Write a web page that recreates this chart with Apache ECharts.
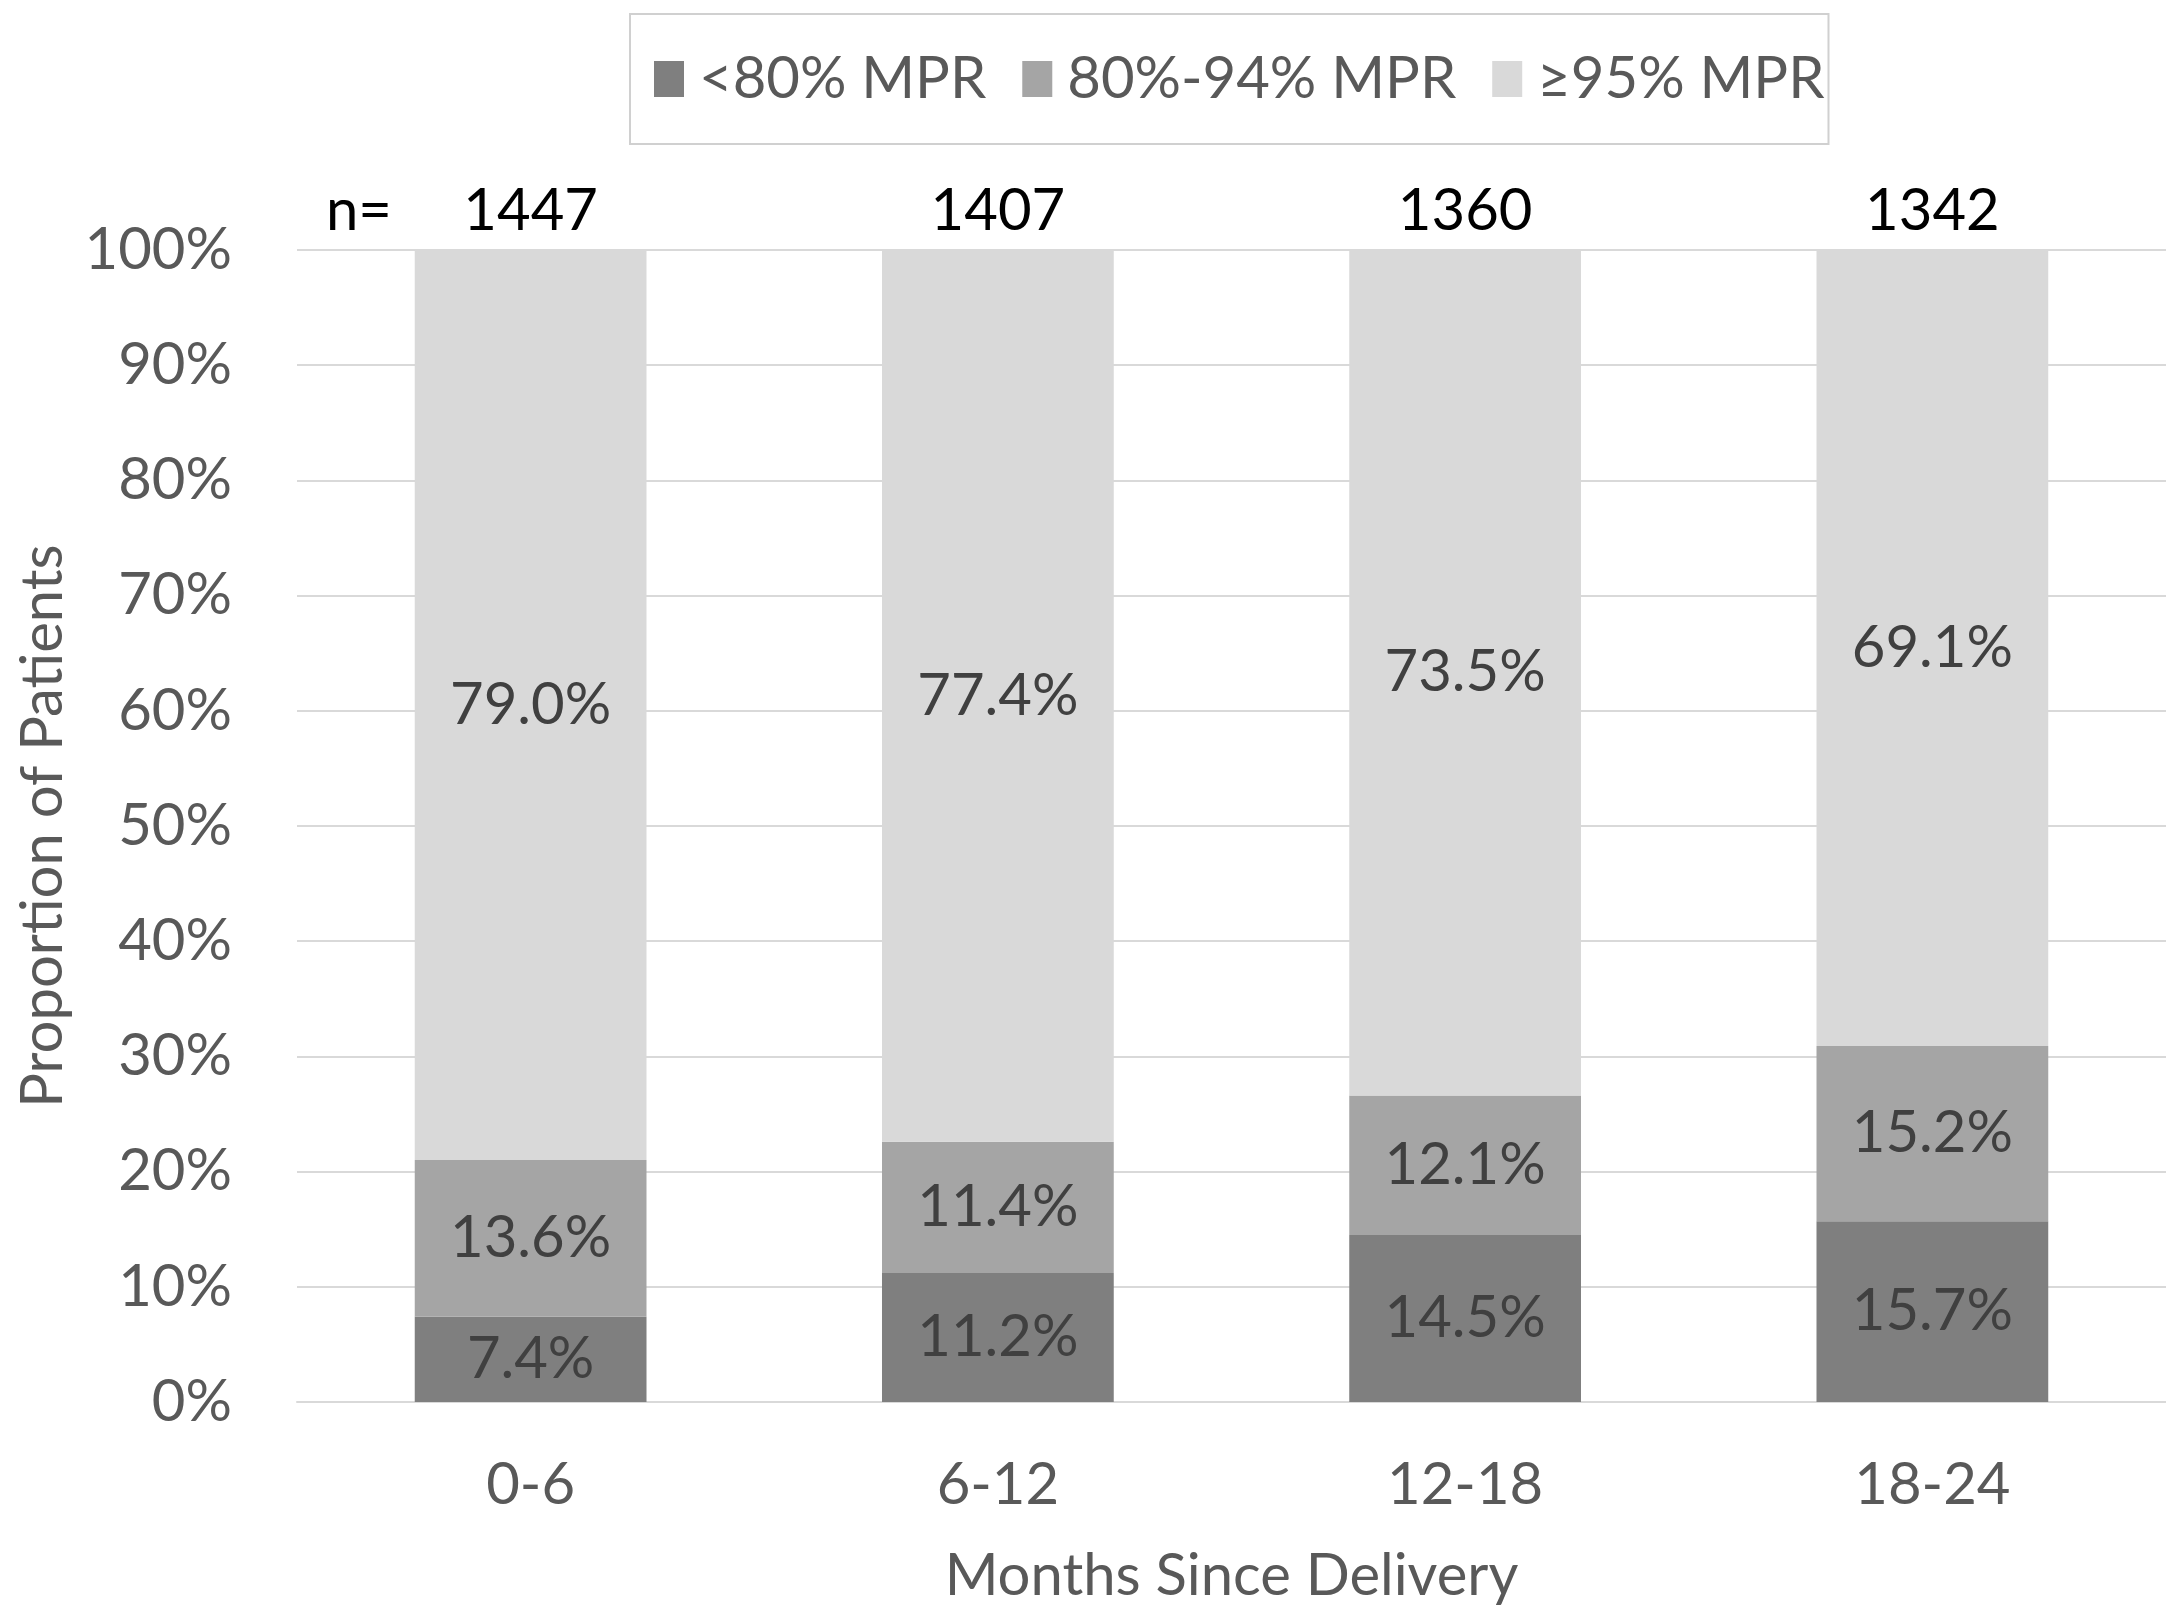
<!DOCTYPE html>
<html>
<head>
<meta charset="utf-8">
<script src="https://cdn.jsdelivr.net/npm/echarts@6/dist/echarts.min.js"></script>
<style>
html,body{margin:0;padding:0;background:#fff;}
#chart{width:2166px;height:1611px;}
</style>
</head>
<body>
<div id="chart"></div>
<script>
const categories = ['0-6', '6-12', '12-18', '18-24'];
const nValues = ['1447', '1407', '1360', '1342'];
const seriesNames = ['<80% MPR', '80%-94% MPR', '≥95% MPR'];
const below80 = [7.4, 11.2, 14.5, 15.7];
const mid80to94 = [13.6, 11.4, 12.1, 15.2];
const above95 = [79.0, 77.4, 73.5, 69.1];
const yTicks = [0, 10, 20, 30, 40, 50, 60, 70, 80, 90, 100];

const FONT = 'Lato';
const colors = ['#7f7f7f', '#a5a5a5', '#d9d9d9'];

const chart = echarts.init(document.getElementById('chart'), null, {renderer: 'canvas'});

const labelStyle = {
  show: true,
  position: 'inside',
  formatter: p => p.value.toFixed(1) + '%',
  color: '#404040',
  fontFamily: FONT,
  fontSize: 58
};

function makeSeries(name, data, idx) {
  return {
    name: name,
    type: 'bar',
    stack: 'total',
    data: data,
    barWidth: '49.6%',
    itemStyle: {color: colors[idx]},
    label: labelStyle,
    emphasis: {disabled: true}
  };
}

chart.setOption({
  animation: false,
  backgroundColor: '#ffffff',
  textStyle: {fontFamily: FONT},
  legend: {
    data: seriesNames,
    top: 14,
    left: 630,
    itemWidth: 30,
    itemHeight: 36,
    itemGap: 36,
    padding: [36, 4, 36, 24],
    borderColor: '#d0d0d0',
    borderWidth: 2,
    textStyle: {color: '#595959', fontFamily: FONT, fontSize: 58, padding: [0, 0, 0, 10]},
    icon: 'rect'
  },
  graphic: [{
    type: 'text',
    left: 326,
    top: 182,
    style: {text: 'n=', fill: '#000', font: '58px ' + FONT}
  }],
  grid: {left: 297, top: 250, width: 1872, height: 1152, containLabel: false},
  xAxis: [{
    type: 'category',
    data: categories,
    position: 'bottom',
    axisLine: {show: true, lineStyle: {color: '#d9d9d9', width: 2}},
    axisTick: {show: false},
    axisLabel: {color: '#595959', fontFamily: FONT, fontSize: 58, margin: 54},
    name: 'Months Since Delivery',
    nameLocation: 'middle',
    nameGap: 145,
    nameTextStyle: {color: '#595959', fontFamily: FONT, fontSize: 58}
  }, {
    type: 'category',
    data: nValues,
    position: 'top',
    axisLine: {show: false},
    axisTick: {show: false},
    axisLabel: {color: '#000000', fontFamily: FONT, fontSize: 58, margin: 10}
  }],
  yAxis: {
    type: 'value',
    min: yTicks[0],
    max: yTicks[yTicks.length - 1],
    interval: 10,
    axisLine: {show: false},
    axisTick: {show: false},
    splitLine: {lineStyle: {color: '#d9d9d9', width: 2}},
    axisLabel: {color: '#595959', fontFamily: FONT, fontSize: 58, margin: 65, formatter: '{value}%'},
    name: 'Proportion of Patients',
    nameLocation: 'middle',
    nameRotate: 90,
    nameGap: 225,
    nameTextStyle: {color: '#595959', fontFamily: FONT, fontSize: 58}
  },
  series: [
    makeSeries(seriesNames[0], below80, 0),
    makeSeries(seriesNames[1], mid80to94, 1),
    makeSeries(seriesNames[2], above95, 2)
  ]
});
</script>
</body>
</html>
